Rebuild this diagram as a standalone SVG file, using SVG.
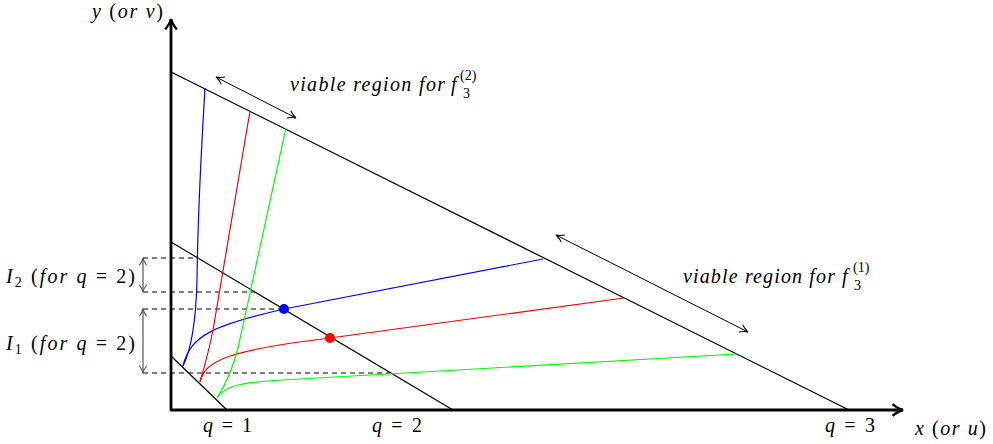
<svg xmlns="http://www.w3.org/2000/svg" width="993" height="444" viewBox="0 0 993 444">
<defs>
<marker id="ah" viewBox="0 0 10 10" refX="9" refY="5" markerWidth="10" markerHeight="10" markerUnits="userSpaceOnUse" orient="auto-start-reverse">
<path d="M1,1 Q5,4 9,5 Q5,6 1,9" fill="none" stroke="#000" stroke-width="1"/>
</marker>
<marker id="ahg" viewBox="0 0 10 10" refX="9" refY="5" markerWidth="9" markerHeight="9" markerUnits="userSpaceOnUse" orient="auto-start-reverse">
<path d="M1,1 Q5,4 9,5 Q5,6 1,9" fill="none" stroke="#555" stroke-width="1.2"/>
</marker>
<marker id="axh" viewBox="0 0 12 12" refX="10" refY="6" markerWidth="14" markerHeight="14" markerUnits="userSpaceOnUse" orient="auto">
<path d="M1,1 Q6,5 10,6 Q6,7 1,11" fill="none" stroke="#000" stroke-width="2"/>
</marker>
</defs>
<style>
text{font-family:"Liberation Serif","DejaVu Serif",serif;font-style:italic;font-size:20px;fill:#000}
.up{font-style:normal}
.sm{font-style:normal;font-size:14px}
.ax{stroke:#000;stroke-width:2.8;fill:none}
.ql{stroke:#000;stroke-width:1.2;fill:none}
.dash{stroke:#000;stroke-width:1;stroke-dasharray:5,4;fill:none}
.cv{stroke-width:1.2;fill:none}
</style>
<rect width="993" height="444" fill="#fff"/>
<g id="axes">
<line class="ax" x1="171" y1="411" x2="171" y2="19" marker-end="url(#axh)"/>
<line class="ax" x1="170" y1="410" x2="903" y2="410" marker-end="url(#axh)"/>
</g>
<g id="connectors">
<line class="ql" x1="171" y1="356" x2="227" y2="410"/>
<line class="ql" x1="171" y1="242" x2="453" y2="410"/>
<line class="ql" x1="171" y1="72" x2="849" y2="410"/>
<line class="dash" x1="143" y1="258" x2="198" y2="258"/>
<line class="dash" x1="143" y1="292" x2="255" y2="292"/>
<line class="dash" x1="143" y1="309" x2="284" y2="309"/>
<line class="dash" x1="143" y1="373" x2="390" y2="373"/>
<line stroke="#555" stroke-width="1.2" x1="143" y1="258" x2="143" y2="292" marker-start="url(#ahg)" marker-end="url(#ahg)"/>
<line stroke="#555" stroke-width="1.2" x1="143" y1="309" x2="143" y2="373" marker-start="url(#ahg)" marker-end="url(#ahg)"/>
<line stroke="#000" stroke-width="1" x1="216" y1="77" x2="296" y2="118" marker-start="url(#ah)" marker-end="url(#ah)"/>
<line stroke="#000" stroke-width="1" x1="556" y1="235" x2="748" y2="332" marker-start="url(#ah)" marker-end="url(#ah)"/>
<path class="cv" stroke="#0000ff" d="M183,366 C192,348 196,320 197,280 C198,200 202,140 205,88"/>
<path class="cv" stroke="#0000ff" d="M183,366 C190,335 215,325 284,309 L543,259"/>
<path class="cv" stroke="#ff0000" d="M200,382 C205,365 210,345 213,330 L250,111"/>
<path class="cv" stroke="#ff0000" d="M200,382 C205,360 230,350 330,338 L624,298"/>
<path class="cv" stroke="#00ff00" d="M217,398 C226,384 233,368 238,348 L286,128"/>
<path class="cv" stroke="#00ff00" d="M217,398 C225,385 240,382 300,379 L737,354"/>
</g>
<g id="points">
<circle cx="284" cy="309" r="5" fill="#0000ff"/>
<circle cx="330" cy="338" r="5" fill="#ff0000"/>
</g>
<g id="labels">
<text x="92" y="18" textLength="71" lengthAdjust="spacing">y <tspan class="up">(</tspan>or v<tspan class="up">)</tspan></text>
<text x="915" y="435" textLength="71" lengthAdjust="spacing">x <tspan class="up">(</tspan>or u<tspan class="up">)</tspan></text>
<text x="203" y="432" textLength="49" lengthAdjust="spacing">q <tspan class="up">= 1</tspan></text>
<text x="372" y="432" textLength="50" lengthAdjust="spacing">q <tspan class="up">= 2</tspan></text>
<text x="825" y="432" textLength="50" lengthAdjust="spacing">q <tspan class="up">= 3</tspan></text>
<text x="6" y="283" textLength="129" lengthAdjust="spacing">I<tspan class="sm" dy="4">2</tspan><tspan dy="-4"> </tspan><tspan class="up">(</tspan>for q <tspan class="up">= 2)</tspan></text>
<text x="6" y="350" textLength="129" lengthAdjust="spacing">I<tspan class="sm" dy="4">1</tspan><tspan dy="-4"> </tspan><tspan class="up">(</tspan>for q <tspan class="up">= 2)</tspan></text>
<text x="290" y="91" textLength="155" lengthAdjust="spacing">viable region for</text>
<text x="451" y="91">f</text>
<text class="sm" x="463" y="98">3</text>
<text class="sm" x="460" y="80">(2)</text>
<text x="683" y="283" textLength="152" lengthAdjust="spacing">viable region for</text>
<text x="842" y="283">f</text>
<text class="sm" x="854" y="290">3</text>
<text class="sm" x="853" y="272">(1)</text>
</g>
</svg>
